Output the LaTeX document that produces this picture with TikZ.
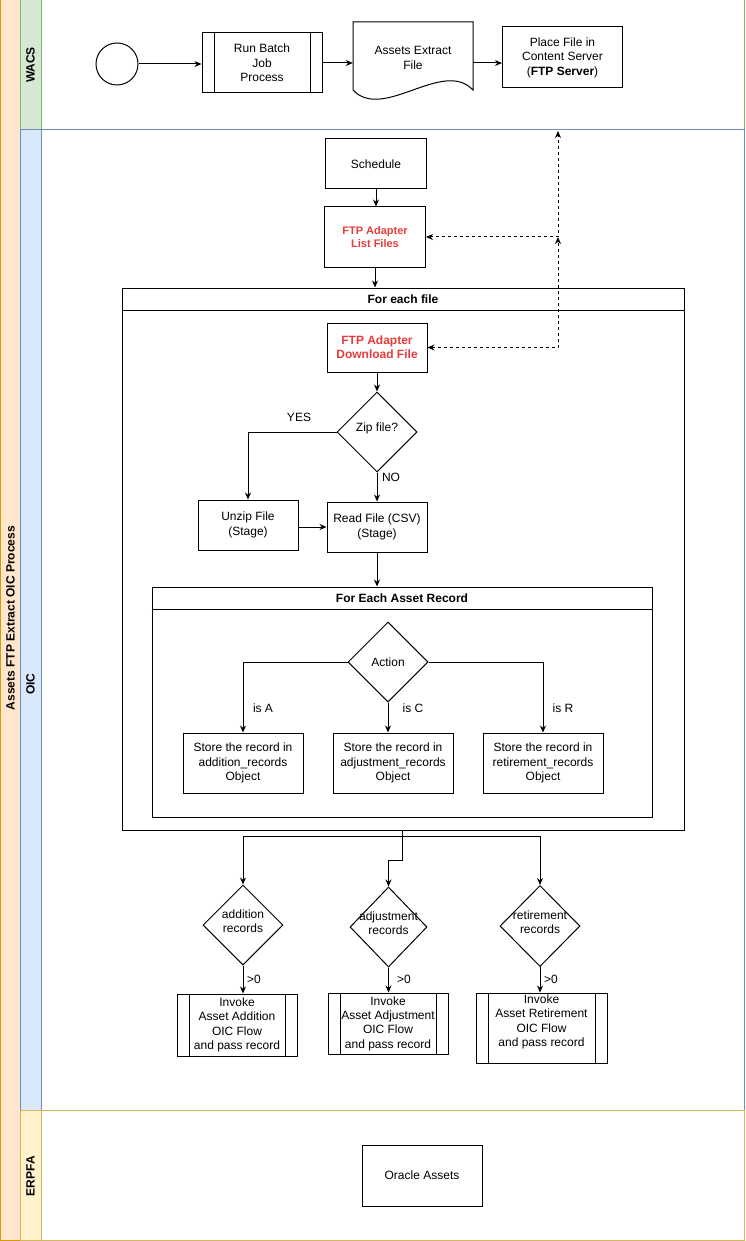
\documentclass[tikz,border=0pt]{standalone}
\usepackage{fontspec}
\setmainfont{Liberation Sans}
\usetikzlibrary{shapes.geometric,arrows.meta}
\definecolor{poolfill}{HTML}{FFE6CC}
\definecolor{poolline}{HTML}{D79B00}
\definecolor{wfill}{HTML}{D5E8D4}
\definecolor{wline}{HTML}{82B366}
\definecolor{ofill}{HTML}{DAE8FC}
\definecolor{oline}{HTML}{6C8EBF}
\definecolor{efill}{HTML}{FFF2CC}
\definecolor{eline}{HTML}{D6B656}
\definecolor{ftpred}{RGB}{230,60,60}
\tikzset{
  proc/.style={draw, line width=1pt, align=center, inner sep=2pt},
  subproc/.style={proc, path picture={
      \draw[line width=1pt] ([xshift=12pt]path picture bounding box.north west) -- ([xshift=12pt]path picture bounding box.south west)
        ([xshift=-12pt]path picture bounding box.north east) -- ([xshift=-12pt]path picture bounding box.south east);}},
  ftpbox/.style={proc, text=ftpred, font=\bfseries\fontsize{11}{13.2}\selectfont},
  dec/.style={draw, diamond, line width=1pt, inner sep=0pt},
  cont/.style={draw, line width=1pt, inner sep=0pt},
  arr/.style={line width=1pt, -{Stealth[length=7pt,width=6pt]}},
  darr/.style={line width=1pt, dash pattern=on 3pt off 3pt, {Stealth[length=7pt,width=6pt]}-{Stealth[length=7pt,width=6pt]}},
  lanelbl/.style={rotate=90, font=\bfseries\fontsize{12}{14.4}\selectfont},
  lbl/.style={inner sep=1pt, align=center}
}
\begin{document}
\begin{tikzpicture}[x=1pt,y=-1pt, font=\fontsize{12}{14.4}\selectfont]
\useasboundingbox (0,0) rectangle (746,1241);
% pool and lanes
\draw[poolline, fill=poolfill, line width=1pt] (0,0) rectangle (20,1240);
\draw[wline, line width=1pt] (20,0) rectangle (744,130);
\draw[wline, fill=wfill, line width=1pt] (20,0) rectangle (41,130);
\draw[oline, line width=1pt] (20,130) rectangle (744,1110);
\draw[oline, fill=ofill, line width=1pt] (20,130) rectangle (41,1110);
\draw[eline, line width=1pt] (20,1110) rectangle (744,1240);
\draw[eline, fill=efill, line width=1pt] (20,1110) rectangle (41,1240);
\node[lanelbl] (poolL) at (10.5,618) {Assets FTP Extract OIC Process};
\node[lanelbl] (wacsL) at (30.5,65) {WACS};
\node[lanelbl] (oicL) at (30.5,684) {OIC};
\node[lanelbl] (erpL) at (30.5,1176) {ERPFA};

% WACS lane
\node[draw, circle, line width=1pt, minimum size=42pt] (start) at (117,64) {};
\node[subproc, minimum width=120pt, minimum height=60pt] (batch) at (262,63) {Run Batch\\Job\\Process};
\draw[line width=1pt] (353,22) -- (473,22) -- (473,90) .. controls (443,58) and (383,122) .. (353,90) -- cycle;
\node[lbl, minimum width=120pt, minimum height=72pt] (doc) at (413,58) {Assets Extract\\File};
\node[proc, minimum width=120pt, minimum height=61pt] (place) at (562.5,57.5) {Place File in\\Content Server\\(\textbf{FTP Server})};
\draw[arr] (start.east) -- (start.east -| batch.west);
\draw[arr] (batch.east) -- (batch.east -| doc.west);
\draw[arr] (doc.east |- batch.east) -- (batch.east -| place.west);

% OIC lane
\node[proc, minimum width=101pt, minimum height=50pt] (sched) at (376,164) {Schedule};
\node[ftpbox, minimum width=101pt, minimum height=60pt] (list) at (375,237) {FTP Adapter\\List Files};
\draw[arr] (sched.south) -- (sched.south |- list.north);

\node[cont, minimum width=562pt, minimum height=542pt] (fe) at (403,559) {};
\draw[line width=1pt] ([yshift=-23pt]fe.north west) -- ([yshift=-23pt]fe.north east);
\node[font=\bfseries\fontsize{12}{14.4}\selectfont] (feh) at (403,299.5) {For each file};
\draw[arr] (list.south) -- (list.south |- fe.north);

\node[ftpbox, font=\bfseries\fontsize{12}{14.4}\selectfont, minimum width=100pt, minimum height=49pt] (dl) at (377,347.5) {FTP Adapter\\Download File};

\coordinate (ftpIn) at (558,131);
\coordinate (mid) at (558,237);
\draw[darr] (list.east) -- (mid) -- (ftpIn);
\draw[darr] (dl.east) -| (mid);

\node[dec, minimum width=80pt, minimum height=80pt] (zip) at (377,432) {};
\node[lbl] (zipt) at (377,428) {Zip file?};
\draw[arr] (dl.south) -- (zip.north);

\node[proc, minimum width=100pt, minimum height=50pt] (unzip) at (248,525) {Unzip File\\(Stage)};
\node[proc, minimum width=100pt, minimum height=50pt] (read) at (377,527) {Read File (CSV)\\(Stage)};
\draw[arr] (zip.west) -| (unzip.north);
\node[lbl] (yes) at (299,417) {YES};
\draw[arr] (zip.south) -- (read.north);
\node[lbl] (no) at (391,477) {NO};
\draw[arr] (unzip.east |- read.west) -- (read.west);

\node[cont, minimum width=500pt, minimum height=230pt] (ar) at (402,702) {};
\draw[line width=1pt] ([yshift=-23pt]ar.north west) -- ([yshift=-23pt]ar.north east);
\node[font=\bfseries\fontsize{12}{14.4}\selectfont] (arh) at (402,598.5) {For Each Asset Record};
\draw[arr] (read.south) -- (read.south |- ar.north);

\node[dec, minimum width=80pt, minimum height=80pt] (action) at (388,662) {};
\node[lbl] (actiont) at (388,662) {Action};
\node[proc, minimum width=120pt, minimum height=60pt] (storeA) at (243,763) {Store the record in\\addition\_records\\Object};
\node[proc, minimum width=120pt, minimum height=60pt] (storeC) at (393,763) {Store the record in\\adjustment\_records\\Object};
\node[proc, minimum width=120pt, minimum height=60pt] (storeR) at (543,763) {Store the record in\\retirement\_records\\Object};
\draw[arr] (action.west) -| (storeA.north);
\draw[arr] (action.south) -- (action.south |- storeC.north);
\draw[arr] (action.east) -| (storeR.north);
\node[lbl] (isA) at (263,708) {is A};
\node[lbl] (isC) at (413,708) {is C};
\node[lbl] (isR) at (563,708) {is R};

% after loop
\coordinate (j1) at (402,836);
\coordinate (j2) at (402,860);
\node[dec, minimum width=80pt, minimum height=80pt] (addD) at (243,925) {};
\node[lbl] (addDt) at (243,921) {addition\\records};
\node[dec, minimum width=77pt, minimum height=80pt] (adjD) at (388.5,927) {};
\node[lbl] (adjDt) at (388.5,923) {adjustment\\records};
\node[dec, minimum width=80pt, minimum height=81pt] (retD) at (540,926) {};
\node[lbl] (retDt) at (540,922) {retirement\\records};
\draw[arr] (fe.south -| j1) -- (j1) -| (addD.north);
\draw[arr] (fe.south -| j2) -- (j2) -| (adjD.north);
\draw[arr] (fe.south -| j1) -- (j1) -| (retD.north);

\node[subproc, minimum width=120pt, minimum height=62pt] (addB) at (237,1025) {Invoke\\Asset Addition\\OIC Flow\\and pass record};
\node[subproc, minimum width=120pt, minimum height=61pt] (adjB) at (388,1023.5) {Invoke\\Asset Adjustment\\OIC Flow\\and pass record};
\node[subproc, minimum width=131pt, minimum height=70pt] (retB) at (541.5,1028) {};
\node[lbl] (retBt) at (541.5,1022) {Invoke\\Asset Retirement\\OIC Flow\\and pass record};
\draw[arr] (addD.south) -- (addD.south |- addB.north);
\draw[arr] (adjD.south) -- (adjD.south |- adjB.north);
\draw[arr] (retD.south) -- (retD.south |- retB.north);
\node[lbl] (gA) at (254,979) {>0};
\node[lbl] (gC) at (404,979) {>0};
\node[lbl] (gR) at (551,979) {>0};

% ERPFA lane
\node[proc, minimum width=120pt, minimum height=61pt] (oracle) at (422,1175.5) {Oracle Assets};
\end{tikzpicture}
\end{document}
